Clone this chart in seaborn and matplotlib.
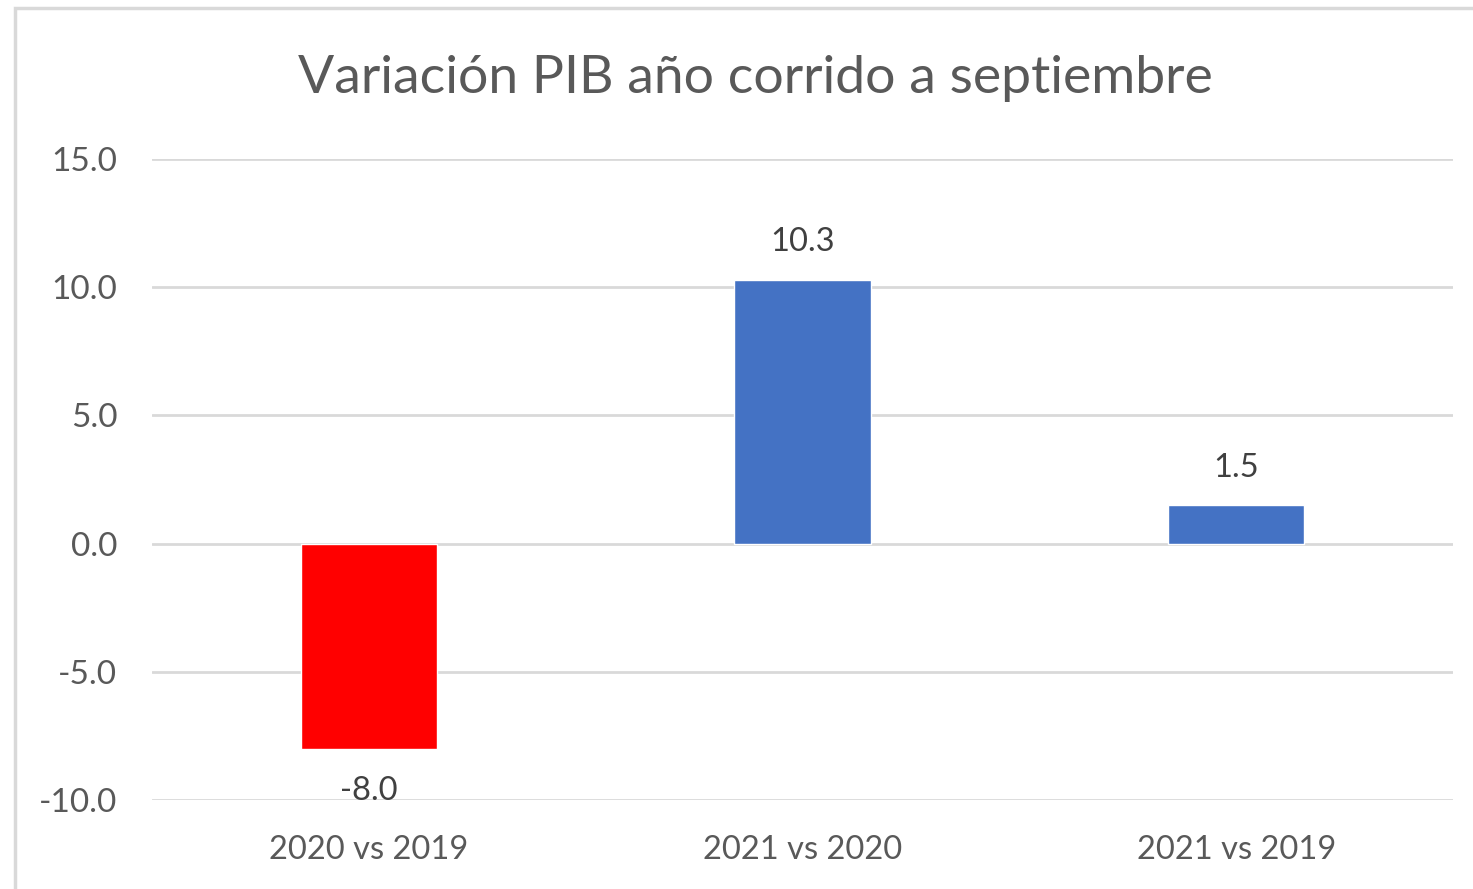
import matplotlib
matplotlib.use("Agg")
import matplotlib.pyplot as plt
import seaborn as sns
import pandas as pd
from matplotlib.patches import Rectangle

categories = ["2020 vs 2019", "2021 vs 2020", "2021 vs 2019"]
values = [-8.0, 10.3, 1.5]
bar_colors = ["#FF0000", "#4472C4", "#4472C4"]
yticks = [-10.0, -5.0, 0.0, 5.0, 10.0, 15.0]
title = "Variación PIB año corrido a septiembre"

sns.set_theme(style="white")
plt.rcParams['font.family'] = ['Lato', 'DejaVu Sans']

W, H = 1473, 889
fig = plt.figure(figsize=(W / 100, H / 100), dpi=100)
ax = fig.add_axes([152 / W, 1 - 800 / H, (1453 - 152) / W, (800 - 159) / H])

df = pd.DataFrame({"cat": categories, "val": values})
sns.barplot(data=df, x="cat", y="val", hue="cat", palette=bar_colors,
            width=0.314, ax=ax, legend=False, saturation=1, zorder=3)

ax.set_ylim(-10, 15)
ax.set_yticks(yticks)
ax.set_yticklabels([f"{v:.1f}" for v in yticks])
ax.yaxis.grid(True, color="#D9D9D9", linewidth=2, zorder=0)
ax.set_axisbelow(True)
for s in ax.spines.values():
    s.set_visible(False)
ax.set_xlabel("")
ax.set_ylabel("")
ax.tick_params(axis="y", labelsize=24, colors="#595959", length=0, pad=25)
ax.tick_params(axis="x", labelsize=23.5, colors="#595959", length=0, pad=25)

for i, v in enumerate(values):
    if v >= 0:
        ax.annotate(f"{v:.1f}", (i, v), xytext=(0, 16), textcoords="offset points",
                    ha="center", va="bottom", fontsize=23.5, color="#404040")
    else:
        ax.annotate(f"{v:.1f}", (i, v), xytext=(0, -20), textcoords="offset points",
                    ha="center", va="top", fontsize=23.5, color="#404040")

fig.text(755 / W, 1 - 79 / H, title, ha="center", va="center",
         fontsize=38.5, color="#595959")

fig.patches.append(Rectangle((15 / W, -0.01), 1.1, 1 - 8 / H + 0.01,
                             transform=fig.transFigure, fill=False,
                             edgecolor="#D9D9D9", linewidth=2.5))

fig.savefig("out.png", dpi=100)
